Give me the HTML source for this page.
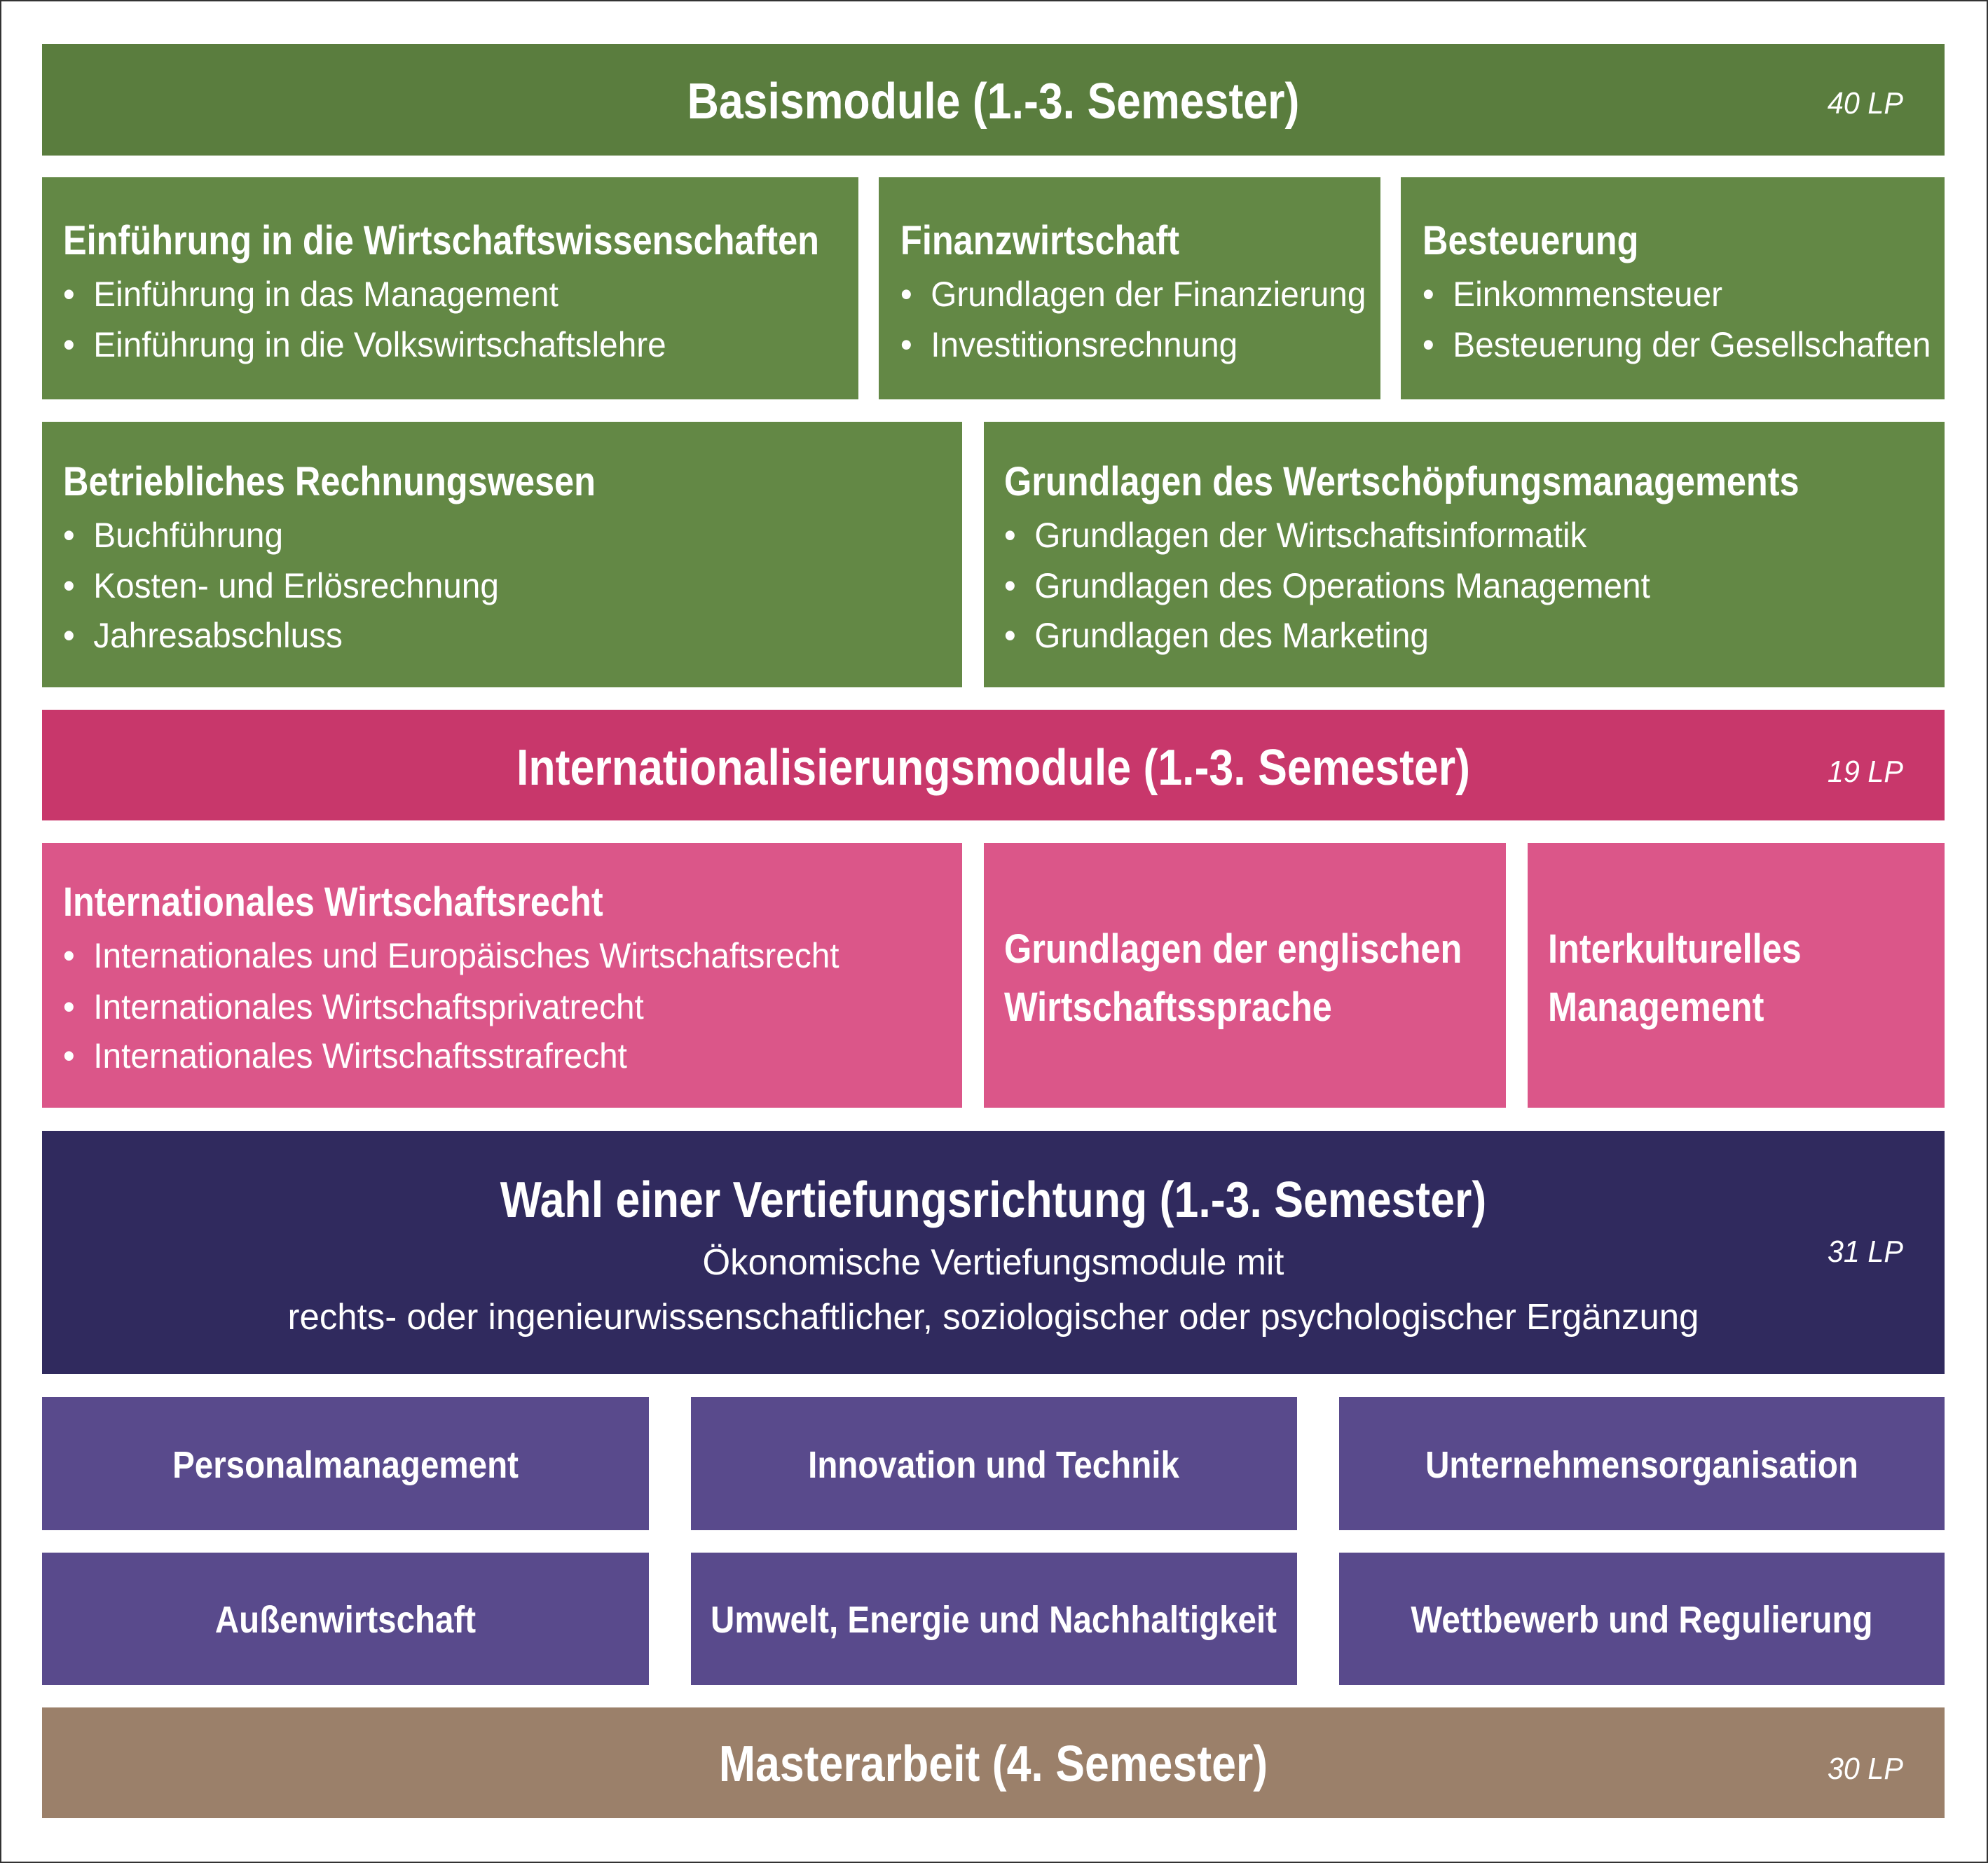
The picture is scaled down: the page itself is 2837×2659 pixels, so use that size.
<!DOCTYPE html>
<html><head><meta charset="utf-8"><style>
html,body{margin:0;padding:0}
body{width:2837px;height:2659px;position:relative;background:#fff;overflow:hidden;font-family:"Liberation Sans Narrow","Liberation Sans",sans-serif;color:#fff}
#frame{position:absolute;left:0;top:0;width:2833px;height:2655px;border:2px solid #333}
.b{position:absolute}
.t{position:absolute;white-space:nowrap}
.h{font-weight:bold;font-size:58px;line-height:70px;transform:scaleX(0.87);transform-origin:left center}
.l{font-size:50px;line-height:70px;transform:scaleX(0.955);transform-origin:left center}
.lc{font-size:52px;line-height:70px;text-align:center;transform:scaleX(0.98);transform-origin:center}
.big{font-weight:bold;font-size:72px;line-height:90px;text-align:center;transform:scaleX(0.87);transform-origin:center}
.lp{font-style:italic;font-size:44px;line-height:60px;right:121px;transform:scaleX(0.94);transform-origin:right center}
.c{font-weight:bold;font-size:54px;line-height:70px;text-align:center;width:2000px;transform:scaleX(0.88);transform-origin:center}
</style></head><body>
<div id="frame"></div>
<!-- Basis -->
<div class="b" style="left:60px;top:63px;width:2715px;height:159px;background:#5a7d3e"></div>
<div class="t big" style="left:60px;width:2715px;top:100px">Basismodule (1.-3. Semester)</div>
<div class="t lp" style="top:118px">40 LP</div>

<div class="b" style="left:60px;top:253px;width:1165px;height:317px;background:#638845"></div>
<div class="b" style="left:1254px;top:253px;width:716px;height:317px;background:#638845"></div>
<div class="b" style="left:1999px;top:253px;width:776px;height:317px;background:#638845"></div>
<div class="t h" style="left:90px;top:309px">Einführung in die Wirtschaftswissenschaften</div>
<div class="t l" style="left:90px;top:385px">•&nbsp; Einführung in das Management</div>
<div class="t l" style="left:90px;top:457px">•&nbsp; Einführung in die Volkswirtschaftslehre</div>
<div class="t h" style="left:1285px;top:309px">Finanzwirtschaft</div>
<div class="t l" style="left:1285px;top:385px">•&nbsp; Grundlagen der Finanzierung</div>
<div class="t l" style="left:1285px;top:457px">•&nbsp; Investitionsrechnung</div>
<div class="t h" style="left:2030px;top:309px">Besteuerung</div>
<div class="t l" style="left:2030px;top:385px">•&nbsp; Einkommensteuer</div>
<div class="t l" style="left:2030px;top:457px">•&nbsp; Besteuerung der Gesellschaften</div>

<div class="b" style="left:60px;top:602px;width:1313px;height:379px;background:#638845"></div>
<div class="b" style="left:1404px;top:602px;width:1371px;height:379px;background:#638845"></div>
<div class="t h" style="left:90px;top:653px">Betriebliches Rechnungswesen</div>
<div class="t l" style="left:90px;top:729px">•&nbsp; Buchführung</div>
<div class="t l" style="left:90px;top:801px">•&nbsp; Kosten- und Erlösrechnung</div>
<div class="t l" style="left:90px;top:872px">•&nbsp; Jahresabschluss</div>
<div class="t h" style="left:1433px;top:653px">Grundlagen des Wertschöpfungsmanagements</div>
<div class="t l" style="left:1433px;top:729px">•&nbsp; Grundlagen der Wirtschaftsinformatik</div>
<div class="t l" style="left:1433px;top:801px">•&nbsp; Grundlagen des Operations Management</div>
<div class="t l" style="left:1433px;top:872px">•&nbsp; Grundlagen des Marketing</div>

<!-- Intl -->
<div class="b" style="left:60px;top:1013px;width:2715px;height:158px;background:#c8376b"></div>
<div class="t big" style="left:60px;width:2715px;top:1051px">Internationalisierungsmodule (1.-3. Semester)</div>
<div class="t lp" style="top:1072px">19 LP</div>

<div class="b" style="left:60px;top:1203px;width:1313px;height:378px;background:#db5689"></div>
<div class="b" style="left:1404px;top:1203px;width:745px;height:378px;background:#db5689"></div>
<div class="b" style="left:2180px;top:1203px;width:595px;height:378px;background:#db5689"></div>
<div class="t h" style="left:90px;top:1253px">Internationales Wirtschaftsrecht</div>
<div class="t l" style="left:90px;top:1329px">•&nbsp; Internationales und Europäisches Wirtschaftsrecht</div>
<div class="t l" style="left:90px;top:1402px">•&nbsp; Internationales Wirtschaftsprivatrecht</div>
<div class="t l" style="left:90px;top:1472px">•&nbsp; Internationales Wirtschaftsstrafrecht</div>
<div class="t h" style="left:1433px;top:1320px">Grundlagen der englischen</div>
<div class="t h" style="left:1433px;top:1403px">Wirtschaftssprache</div>
<div class="t h" style="left:2209px;top:1320px">Interkulturelles</div>
<div class="t h" style="left:2209px;top:1403px">Management</div>

<!-- Wahl -->
<div class="b" style="left:60px;top:1614px;width:2715px;height:347px;background:#302a5e"></div>
<div class="t big" style="left:60px;width:2715px;top:1668px">Wahl einer Vertiefungsrichtung (1.-3. Semester)</div>
<div class="t lc" style="left:60px;width:2715px;top:1767px">Ökonomische Vertiefungsmodule mit</div>
<div class="t lc" style="left:60px;width:2715px;top:1845px">rechts- oder ingenieurwissenschaftlicher, soziologischer oder psychologischer Ergänzung</div>
<div class="t lp" style="top:1757px">31 LP</div>

<div class="b" style="left:60px;top:1994px;width:866px;height:190px;background:#594a8c"></div>
<div class="b" style="left:986px;top:1994px;width:865px;height:190px;background:#594a8c"></div>
<div class="b" style="left:1911px;top:1994px;width:864px;height:190px;background:#594a8c"></div>
<div class="t c" style="left:-507px;top:2056px">Personalmanagement</div>
<div class="t c" style="left:418px;top:2056px">Innovation und Technik</div>
<div class="t c" style="left:1343px;top:2056px">Unternehmensorganisation</div>
<div class="b" style="left:60px;top:2216px;width:866px;height:189px;background:#594a8c"></div>
<div class="b" style="left:986px;top:2216px;width:865px;height:189px;background:#594a8c"></div>
<div class="b" style="left:1911px;top:2216px;width:864px;height:189px;background:#594a8c"></div>
<div class="t c" style="left:-507px;top:2277px">Außenwirtschaft</div>
<div class="t c" style="left:418px;top:2277px">Umwelt, Energie und Nachhaltigkeit</div>
<div class="t c" style="left:1343px;top:2277px">Wettbewerb und Regulierung</div>

<!-- Master -->
<div class="b" style="left:60px;top:2437px;width:2715px;height:158px;background:#9b806a"></div>
<div class="t big" style="left:60px;width:2715px;top:2473px">Masterarbeit (4. Semester)</div>
<div class="t lp" style="top:2495px">30 LP</div>
</body></html>
